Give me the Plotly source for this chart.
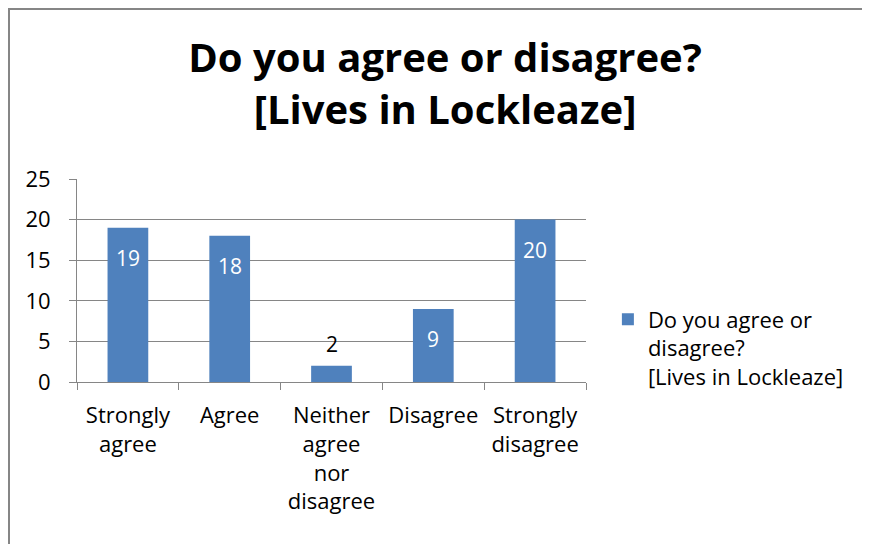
import plotly.graph_objects as go

categories = ["Strongly<br>agree", "Agree", "Neither<br>agree<br>nor<br>disagree", "Disagree", "Strongly<br>disagree"]
counts = [19, 18, 2, 9, 20]
series_name = "Do you agree or<br>disagree?<br>[Lives in Lockleaze]"
title_text = "Do you agree or disagree?<br>[Lives in Lockleaze]"

grey = "#868686"
font_family = "'Open Sans', sans-serif"

bars = go.Bar(
    x=categories,
    y=counts,
    name=series_name,
    marker=dict(color="#4F81BD", line=dict(width=0)),
    showlegend=True,
)

# data labels: white inside the bar near the top, black above when the bar is too short
labels = []
for cat, v in zip(categories, counts):
    inside = v >= 5
    labels.append(dict(
        x=cat, y=v, xref="x", yref="y",
        text=str(v), showarrow=False,
        yanchor="middle", yshift=-30 if inside else 22,
        font=dict(size=21, color="white" if inside else "black", family=font_family),
    ))

layout = go.Layout(
    width=862,
    height=536,
    paper_bgcolor="white",
    plot_bgcolor="white",
    font=dict(family=font_family, size=22, color="black"),
    margin=dict(l=69, r=284, t=171, b=162),
    title=dict(
        text="<b>" + title_text + "</b>",
        x=0.507, xref="container", xanchor="center",
        y=0.88, yref="container", yanchor="top",
        font=dict(size=40, family=font_family, color="black"),
    ),
    bargap=0.6,
    xaxis=dict(
        showline=True, linecolor=grey, linewidth=1,
        ticks="outside", ticklen=7, tickcolor=grey,
        tickson="boundaries",
        tickfont=dict(size=22),
        ticklabelstandoff=14,
        showgrid=False,
    ),
    yaxis=dict(
        range=[0, 25], dtick=5,
        showline=True, linecolor=grey, linewidth=1,
        ticks="outside", ticklen=7, tickcolor=grey,
        gridcolor=grey, gridwidth=1,
        zeroline=False,
        tickfont=dict(size=22),
        ticklabelstandoff=14,
    ),
    legend=dict(
        x=1.043, xanchor="left",
        y=0.1675, yanchor="middle",
        valign="top",
        font=dict(size=22),
        bgcolor="rgba(0,0,0,0)",
    ),
    annotations=labels,
    shapes=[dict(
        type="rect", xref="paper", yref="paper",
        x0=-0.1336, x1=1.7, y0=-0.9, y1=1.8374,
        line=dict(color=grey, width=2), fillcolor="rgba(0,0,0,0)",
        layer="below",
    )],
)

fig = go.Figure(data=[bars], layout=layout)
fig.write_html("out.html")
